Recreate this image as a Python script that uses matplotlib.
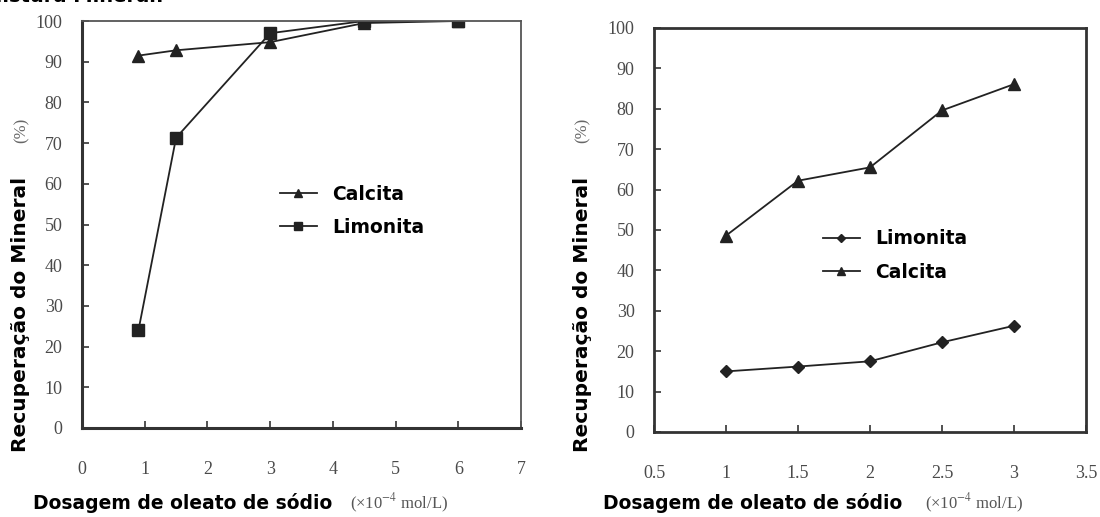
import matplotlib
matplotlib.use('Agg')

import numpy as np
import matplotlib.pyplot as plt

plt.rcParams['mathtext.fontset'] = 'stix'

# left chart: mixture of minerals
x_left = [0.9, 1.5, 3, 4.5, 6]
calcita_left = [91.5, 92.8, 94.8, 99.5, 100]
limonita_left = [24, 71.3, 97, 100, 100]

# right chart
x_right = [1, 1.5, 2, 2.5, 3]
calcita_right = [48.6, 62.2, 65.5, 79.6, 86.1]
limonita_right = [15.0, 16.2, 17.5, 22.2, 26.3]

left_xticks = [0, 1, 2, 3, 4, 5, 6, 7]
right_xticks = [0.5, 1, 1.5, 2, 2.5, 3, 3.5]
right_xticklabels = ['0.5', '1', '1.5', '2', '2.5', '3', '3.5']
yticks = np.arange(0, 101, 10)

W, H = 1100, 517
fig = plt.figure(figsize=(11, 5.17), dpi=100)

serif = 'Liberation Serif'
tick_color = '#4a4a4a'
line_color = '#222222'


def px_axes(x0, y0, x1, y1):
    return fig.add_axes([x0 / W, 1 - y1 / H, (x1 - x0) / W, (y1 - y0) / H])


def style(ax):
    ax.set_ylim(0, 100)
    ax.set_yticks(yticks)
    ax.tick_params(direction='in', length=5, width=1.2, colors='#333333',
                   labelcolor=tick_color, labelsize=13)
    ax.tick_params(axis='y', pad=14)
    ax.tick_params(axis='x', pad=24)
    for lab in ax.get_xticklabels() + ax.get_yticklabels():
        lab.set_fontfamily(serif)


leg_kw = dict(loc='upper left', frameon=False, handlelength=2.0, handletextpad=0.8,
              labelspacing=0.75, markerscale=0.75, borderaxespad=0,
              prop={'weight': 'bold', 'size': 13.5})

ax1 = px_axes(82, 21, 521, 428)
ax1.plot(x_left, calcita_left, color=line_color, lw=1.3, marker='^', ms=8, label='Calcita')
ax1.plot(x_left, limonita_left, color=line_color, lw=1.3, marker='s', ms=8, label='Limonita')
ax1.set_xlim(0, 7)
ax1.set_xticks(left_xticks)
style(ax1)
for s in ['left', 'bottom']:
    ax1.spines[s].set_linewidth(2.2)
    ax1.spines[s].set_color('#333333')
for s in ['top', 'right']:
    ax1.spines[s].set_linewidth(1.3)
    ax1.spines[s].set_color('#555555')
ax1.legend(bbox_to_anchor=((272 - 82) / 439, 1 - (177 - 21) / 407), **leg_kw)

ax2 = px_axes(654, 28, 1086, 432)
ax2.plot(x_right, limonita_right, color=line_color, lw=1.3, marker='D', ms=6, label='Limonita')
ax2.plot(x_right, calcita_right, color=line_color, lw=1.3, marker='^', ms=8, label='Calcita')
ax2.set_xlim(0.5, 3.5)
ax2.set_xticks(right_xticks)
ax2.set_xticklabels(right_xticklabels)
style(ax2)
for s in ax2.spines.values():
    s.set_linewidth(2.0)
    s.set_color('#333333')
ax2.legend(bbox_to_anchor=((815 - 654) / 432, 1 - (222 - 28) / 404), **leg_kw)

# axis titles: bold part + serif unit part
for xc in [21, 582]:
    fig.text(xc / W, 1 - 452 / H, 'Recuperação do Mineral', rotation=90,
             ha='center', va='bottom', fontsize=14.5, fontweight='bold')
    fig.text((xc + 1) / W, 1 - 143 / H, '(%)', rotation=90, ha='center', va='bottom',
             fontsize=12, color='#666666', fontfamily=serif)

for x0, xu in [(33, 350), (603, 925)]:
    fig.text(x0 / W, 1 - 503 / H, 'Dosagem de oleato de sódio', ha='left', va='center',
             fontsize=13.5, fontweight='bold')
    fig.text(xu / W, 1 - 503 / H, r'(×10$^{-4}$ mol/L)', ha='left', va='center',
             fontsize=12, color='#555555', fontfamily=serif)

# title cut off at the top of the picture, as in the source figure
fig.text(164 / W, 1 - 2 / H, 'Mistura Mineral:', ha='right', va='baseline',
         fontsize=14, fontweight='bold')

fig.savefig('out.png', dpi=100)
